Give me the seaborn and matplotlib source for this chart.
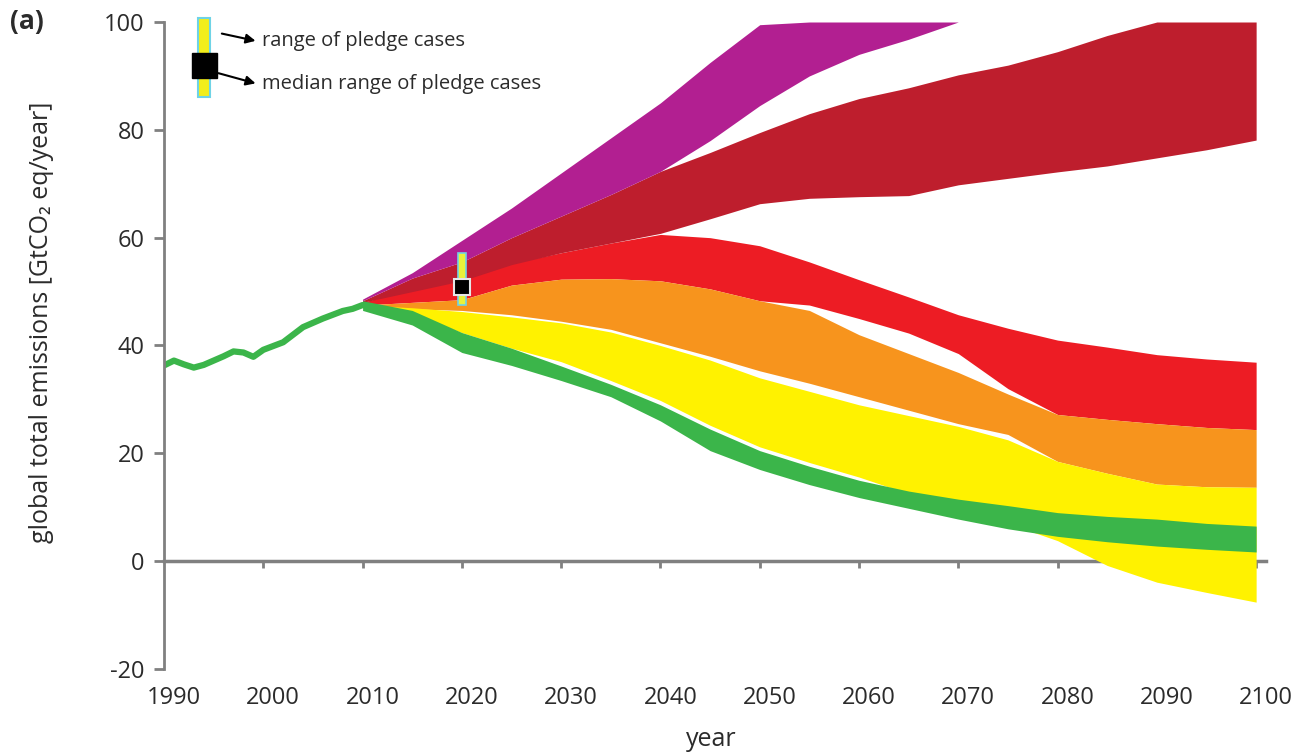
import numpy as np
import pandas as pd
import seaborn as sns
import matplotlib.pyplot as plt
import matplotlib.transforms as mtransforms
from matplotlib.patches import Rectangle

sns.set_style('white')
plt.rcParams['font.family'] = ['Open Sans', 'DejaVu Sans']
plt.rcParams['axes.unicode_minus'] = False

# historical global emissions (GtCO2 eq/year)
hist_years = list(range(1990, 2011))
hist_emis = [36.3, 37.2, 36.5, 35.9, 36.4, 37.2, 38.0, 38.9, 38.7, 37.9, 39.2,
             39.9, 40.6, 42.0, 43.4, 44.2, 45.0, 45.7, 46.4, 46.8, 47.5]

# scenario ranges, read every 5 years from 2010 to 2100
years = list(range(2010, 2101, 5))
green_lo = [46.5, 43.8, 38.7, 36.3, 33.5, 30.5, 26.0, 20.5, 17.0, 14.2, 11.8, 9.8, 7.8, 6.0, 4.6, 3.6, 2.8, 2.2, 1.7]
green_hi = [48.3, 46.5, 42.4, 39.5, 36.2, 32.8, 29.0, 24.5, 20.5, 17.6, 15.0, 13.0, 11.5, 10.3, 9.0, 8.3, 7.8, 7.0, 6.5]
yellow_lo = [47.0, 45.8, 42.4, 39.5, 37.0, 33.5, 29.8, 25.2, 21.2, 18.3, 15.6, 12.5, 9.5, 7.0, 3.8, -0.8, -3.9, -5.8, -7.6]
yellow_hi = [47.5, 47.0, 46.3, 45.3, 44.2, 42.5, 40.0, 37.3, 34.0, 31.5, 29.0, 27.0, 25.0, 22.5, 18.5, 16.3, 14.3, 13.8, 13.7]
orange_lo = [47.0, 46.8, 46.5, 45.7, 44.5, 43.0, 40.5, 38.0, 35.3, 33.0, 30.5, 28.0, 25.5, 23.5, 18.5, 16.3, 14.3, 13.8, 13.7]
orange_hi = [47.5, 48.0, 48.5, 51.2, 52.3, 52.4, 52.0, 50.5, 48.3, 46.5, 42.0, 38.5, 35.0, 31.0, 27.2, 26.3, 25.5, 24.8, 24.4]
red_lo = [47.5, 48.0, 48.5, 51.2, 52.3, 52.4, 52.0, 50.5, 48.3, 47.5, 45.0, 42.3, 38.5, 32.0, 27.2, 26.3, 25.5, 24.8, 24.4]
red_hi = [48.0, 50.5, 53.0, 55.3, 57.2, 59.0, 60.6, 60.0, 58.5, 55.5, 52.2, 49.0, 45.7, 43.2, 41.0, 39.7, 38.3, 37.5, 36.9]
darkred_lo = [48.0, 50.0, 52.0, 55.0, 57.2, 59.0, 60.8, 63.5, 66.3, 67.3, 67.6, 67.8, 69.8, 71.0, 72.2, 73.3, 74.8, 76.3, 78.1]
darkred_hi = [48.3, 52.5, 55.5, 60.0, 64.0, 68.0, 72.3, 75.8, 79.5, 83.0, 85.8, 87.8, 90.2, 92.0, 94.5, 97.5, 100, 100, 100]
purple_lo = [48.3, 52.5, 55.5, 60.0, 64.0, 68.0, 72.3, 78.0, 84.5, 90.0, 94.0, 96.8, 100, np.nan, np.nan, np.nan, np.nan, np.nan, np.nan]
purple_hi = [48.6, 53.5, 59.5, 65.5, 72.0, 78.5, 85.0, 92.5, 99.5, 100, 100, 100, 100, np.nan, np.nan, np.nan, np.nan, np.nan, np.nan]

# pledge cases around 2020
pledge_year = 2020
pledge_lo, pledge_hi = 47.5, 57.2
pledge_median = 50.9

col_green = '#3bb54a'
col_yellow = '#fff200'
col_orange = '#f7941d'
col_red = '#ed1c24'
col_darkred = '#be1e2d'
col_purple = '#b21f91'
grey = '#808080'
txt = '#2b2b2b'

fig = plt.figure(figsize=(13.09, 7.56), dpi=100)
ax = fig.add_axes([0.1253, 0.1151, 0.8419, 0.8558])

bands = [(red_lo, red_hi, col_red),
         (darkred_lo, darkred_hi, col_darkred),
         (purple_lo, purple_hi, col_purple),
         (orange_lo, orange_hi, col_orange),
         (yellow_lo, yellow_hi, col_yellow),
         (green_lo, green_hi, col_green)]
for lo, hi, c in bands:
    ax.fill_between(years, lo, hi, color=c, linewidth=0)

hist = pd.DataFrame({'year': hist_years, 'emis': hist_emis})
sns.lineplot(data=hist, x='year', y='emis', color=col_green, linewidth=4.5, ax=ax)

# pledge range + median
ax.bar(pledge_year, pledge_hi - pledge_lo, bottom=pledge_lo, width=0.8,
       color='#e9f23a', edgecolor='#6fd3e6', linewidth=1.2, zorder=5)
ax.plot(pledge_year, pledge_median, marker='s', markersize=11.5, color='black',
        markeredgecolor='#e6e6e6', markeredgewidth=1.5, zorder=6)

# legend drawn by hand
ax.add_patch(Rectangle((0.0308, 0.884), 0.011, 0.122, transform=ax.transAxes,
                       facecolor='#f2ee1c', edgecolor='#6fd3e6', linewidth=1.5,
                       clip_on=False, zorder=5))
ax.plot([0.0363], [0.9335], transform=ax.transAxes, marker='s', markersize=18,
        color='black', clip_on=False, zorder=6)
arrow = dict(arrowstyle='-|>', color='black', lw=1.5, mutation_scale=14)
ax.annotate('', xy=(0.0855, 0.970), xytext=(0.050, 0.983),
            xycoords='axes fraction', arrowprops=arrow, annotation_clip=False)
ax.annotate('', xy=(0.0855, 0.904), xytext=(0.047, 0.922),
            xycoords='axes fraction', arrowprops=arrow, annotation_clip=False)
ax.text(0.0889, 0.971, 'range of pledge cases', transform=ax.transAxes,
        fontsize=14.5, color=txt, va='center', ha='left')
ax.text(0.0889, 0.904, 'median range of pledge cases', transform=ax.transAxes,
        fontsize=14.5, color=txt, va='center', ha='left')

ax.set_xlim(1990, 2101)
ax.set_ylim(-20, 100)
ax.set_yticks(range(-20, 101, 20))
ax.set_xticks(range(1990, 2101, 10))

for s in ['top', 'right', 'bottom']:
    ax.spines[s].set_visible(False)
ax.spines['left'].set_color(grey)
ax.spines['left'].set_linewidth(2)
ax.tick_params(axis='y', left=True, length=7, width=2, color=grey,
               labelsize=17, labelcolor=txt, pad=7)
ax.tick_params(axis='x', bottom=True, length=0, labelsize=17, labelcolor=txt, pad=12)

# nudge year labels a little to the right, as in the original
shift = mtransforms.ScaledTranslation(0.1, 0, fig.dpi_scale_trans)
for lab in ax.get_xticklabels():
    lab.set_transform(lab.get_transform() + shift)

# zero line with ticks
zero = ax.secondary_xaxis(20 / 120)
zero.set_xticks(range(2000, 2101, 10))
zero.tick_params(axis='x', length=5, width=2, color=grey, labelbottom=False)
zero.spines['bottom'].set_color(grey)
zero.spines['bottom'].set_linewidth(2.5)

ax.set_xlabel('year', fontsize=18, color=txt)
ax.xaxis.set_label_coords(0.497, -0.0896)
ax.set_ylabel('global total emissions [GtCO₂ eq/year]', fontsize=18, color=txt)
ax.yaxis.set_label_coords(-0.1, 0.536)

fig.text(0.008, 1 - 22 / 756, '(a)', fontsize=19, fontweight='bold', color=txt,
         va='center', ha='left')

fig.savefig('out.png', dpi=100)
